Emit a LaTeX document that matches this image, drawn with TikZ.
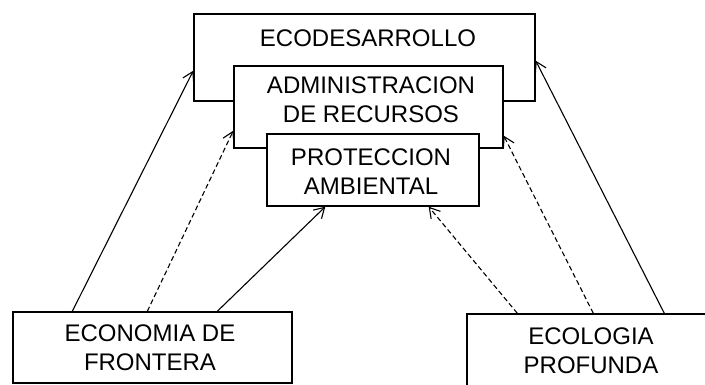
\documentclass[tikz,border=0pt]{standalone}
\usepackage{fontspec}
\setmainfont{Liberation Sans}
\usetikzlibrary{positioning, calc, arrows.meta}

\begin{document}
\begin{tikzpicture}
		[x=1pt, y=-1pt,
		 box/.style = {draw, line width=1.4pt, fill=white, inner sep=0pt},
		 lbl/.style = {align=center, inner sep=0pt, font=\fontsize{24}{29}\selectfont},
		 arr/.style = {line width=1.1pt, -{Straight Barb[length=10pt, width=12pt]}},
		 dasharr/.style = {arr, dash pattern=on 5pt off 3pt}]
		\useasboundingbox (0,0) rectangle (705,385);
		\clip (0,0) rectangle (705,385);
		% the three nested boxes on top
		\node[box, minimum width=341pt, minimum height=87pt] (eco) at (364.5,57.5) {};
		\node[lbl] (ecotxt) at (368,38) {ECODESARROLLO};
		\node[box, minimum width=269pt, minimum height=82pt] (adm) at (368.5,107) {};
		\node[lbl] (admtxt) at (371,100) {ADMINISTRACION\\DE RECURSOS};
		\node[box, minimum width=212pt, minimum height=72pt] (pro) at (373,170) {};
		\node[lbl] (protxt) at (371,172) {PROTECCION\\AMBIENTAL};
		% the two boxes below
		\node[box, minimum width=279pt, minimum height=71pt] (econ) at (152.5,347.5) {};
		\node[lbl] (econtxt) at (150,347.5) {ECONOMIA DE\\FRONTERA};
		\node[box, minimum width=248pt, minimum height=73pt] (ecol) at (591,350.5) {};
		\node[lbl] (ecoltxt) at (591,350.5) {ECOLOGIA\\PROFUNDA};
		
		\draw[arr] ($(econ.north west)+(60,0)$) -- ($(eco.south west)+(0,-31)$);
		\draw[dasharr] ($(econ.north west)+(135,0)$) -- ($(adm.south west)+(0,-18)$);
		\draw[arr] ($(econ.north west)+(205,0)$) -- ($(pro.south west)+(59,0)$);
		\draw[dasharr] ($(ecol.north west)+(51,0)$) -- ($(pro.south east)+(-51,0)$);
		\draw[dasharr] ($(ecol.north west)+(127,0)$) -- ($(adm.south east)+(0,-13)$);
		\draw[arr] ($(ecol.north west)+(198,0)$) -- ($(eco.south east)+(0,-41)$);
	\end{tikzpicture}
\end{document}
